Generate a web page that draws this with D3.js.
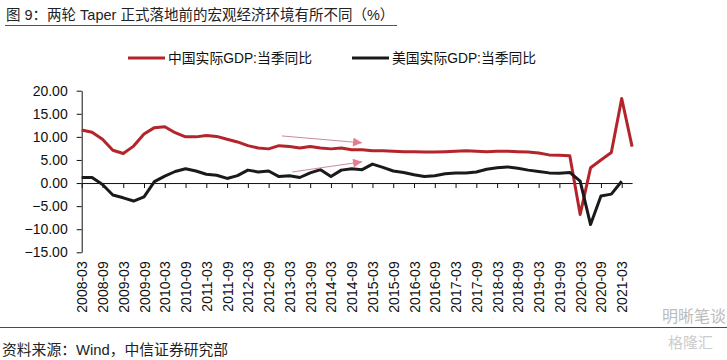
<!DOCTYPE html>
<html>
<head>
<meta charset="utf-8">
<script src="https://cdn.jsdelivr.net/npm/d3@7"></script>
<style>
  body { margin: 0; background: #fff; }
  svg { display: block; font-family: "Liberation Sans", Arial, "Noto Sans CJK SC", sans-serif; }
  .axis text { font-size: 14px; fill: #111; }
  .axis path, .axis line { stroke: #111; stroke-width: 1; }
</style>
</head>
<body>
<svg id="chart" width="727" height="360"></svg>
<script>
const quarters = [
  "2008-03","2008-06","2008-09","2008-12","2009-03","2009-06","2009-09","2009-12",
  "2010-03","2010-06","2010-09","2010-12","2011-03","2011-06","2011-09","2011-12",
  "2012-03","2012-06","2012-09","2012-12","2013-03","2013-06","2013-09","2013-12",
  "2014-03","2014-06","2014-09","2014-12","2015-03","2015-06","2015-09","2015-12",
  "2016-03","2016-06","2016-09","2016-12","2017-03","2017-06","2017-09","2017-12",
  "2018-03","2018-06","2018-09","2018-12","2019-03","2019-06","2019-09","2019-12",
  "2020-03","2020-06","2020-09","2020-12","2021-03","2021-06"
];

// 中国实际GDP:当季同比
const chinaGdp = [
  11.5, 11.0, 9.5, 7.1, 6.4, 8.0, 10.6, 12.0,
  12.2, 10.9, 10.0, 10.0, 10.3, 10.1, 9.5, 8.9,
  8.1, 7.6, 7.4, 8.1, 7.9, 7.6, 7.9, 7.6,
  7.4, 7.6, 7.2, 7.2, 7.0, 7.0, 6.9, 6.8,
  6.8, 6.7, 6.7, 6.8, 6.9, 7.0, 6.9, 6.8,
  6.9, 6.9, 6.8, 6.7, 6.5, 6.1, 6.0, 5.9,
  -6.8, 3.3, 5.0, 6.6, 18.3, 7.9
];

// 美国实际GDP:当季同比
const usGdp = [
  1.2, 1.2, -0.3, -2.6, -3.2, -3.9, -3.0, 0.3,
  1.5, 2.5, 3.1, 2.6, 1.9, 1.7, 1.0, 1.6,
  2.8, 2.4, 2.6, 1.4, 1.6, 1.2, 2.2, 2.9,
  1.4, 2.8, 3.1, 2.9, 4.1, 3.4, 2.6, 2.3,
  1.8, 1.4, 1.6, 2.0, 2.2, 2.2, 2.4, 3.0,
  3.3, 3.5, 3.2, 2.8, 2.5, 2.2, 2.1, 2.3,
  0.4, -9.0, -2.8, -2.4, 0.4, null
];

const yTicks = [-15, -10, -5, 0, 5, 10, 15, 20];

// annotation arrows: [from quarter, from value, to quarter, to value]
const arrows = [
  ["2012-12", 10.2, "2014-12", 8.7],
  ["2013-03", 2.4, "2014-12", 4.6]
];

const series = [
  { name: "中国实际GDP:当季同比", values: chinaGdp, color: "#b3242b" },
  { name: "美国实际GDP:当季同比", values: usGdp, color: "#1a1a1a" }
];

const svg = d3.select("#chart");

const x = d3.scalePoint().domain(quarters).range([81.7, 632.1]);
const y = d3.scaleLinear().domain([-15, 20]).range([252.3, 90.7]);

// title
svg.append("text")
  .attr("x", 6).attr("y", 20)
  .attr("font-size", 14.5).attr("fill", "#222")
  .text("图 9：两轮 Taper 正式落地前的宏观经济环境有所不同（%）");
svg.append("line")
  .attr("x1", 5).attr("x2", 397).attr("y1", 25.5).attr("y2", 25.5)
  .attr("stroke", "#8e3a3a").attr("stroke-width", 1);

// legend
const legend = svg.append("g").attr("transform", "translate(128,58)");
series.forEach((s, i) => {
  const g = legend.append("g").attr("transform", `translate(${i * 224},0)`);
  g.append("line").attr("x1", 0).attr("x2", 37).attr("stroke", s.color).attr("stroke-width", 3);
  g.append("text").attr("x", 40).attr("dy", "0.35em")
    .attr("font-size", 13.8).attr("fill", "#111").text(s.name);
});

// y axis
svg.append("g").attr("class", "axis")
  .attr("transform", `translate(${x.range()[0]},0)`)
  .call(d3.axisLeft(y).tickValues(yTicks).tickFormat(d3.format(".2f")).tickSize(5).tickPadding(9).tickSizeOuter(0));

// x axis line with ticks at zero
const labelled = quarters.filter((q, i) => i % 2 === 0);
svg.append("g").attr("class", "axis")
  .attr("transform", `translate(0,${y(0)})`)
  .call(d3.axisBottom(x).tickValues(labelled).tickFormat("").tickSize(5).tickSizeOuter(0));

// x labels at bottom
const xl = svg.append("g").attr("class", "axis")
  .attr("transform", `translate(0,${y(-15)})`)
  .call(d3.axisBottom(x).tickValues(labelled).tickSize(0));
xl.select(".domain").remove();
xl.selectAll("text")
  .attr("transform", "rotate(-90)")
  .attr("text-anchor", "end")
  .attr("x", -9).attr("y", 0).attr("dy", "0.36em");

// lines
const line = d3.line()
  .defined(d => d.v !== null)
  .x(d => x(d.q))
  .y(d => y(d.v));

series.forEach(s => {
  svg.append("path")
    .datum(quarters.map((q, i) => ({ q, v: s.values[i] })))
    .attr("fill", "none")
    .attr("stroke", s.color)
    .attr("stroke-width", 3)
    .attr("stroke-linejoin", "round")
    .attr("d", line);
});

// arrows
svg.append("defs").append("marker")
  .attr("id", "arrow")
  .attr("viewBox", "0 0 10 10")
  .attr("refX", 10).attr("refY", 5)
  .attr("markerWidth", 10).attr("markerHeight", 9)
  .attr("markerUnits", "userSpaceOnUse")
  .attr("orient", "auto")
  .append("path")
  .attr("d", "M 0 0 L 10 5 L 0 10 z")
  .attr("fill", "#e47d90");

arrows.forEach(a => {
  svg.append("line")
    .attr("x1", x(a[0]) + 3).attr("y1", y(a[1]))
    .attr("x2", x(a[2])).attr("y2", y(a[3]))
    .attr("stroke", "#c98c98").attr("stroke-width", 1)
    .attr("marker-end", "url(#arrow)");
});

// footer
svg.append("line")
  .attr("x1", 0).attr("x2", 727).attr("y1", 327.5).attr("y2", 327.5)
  .attr("stroke", "#8b2e2e").attr("stroke-width", 1);
svg.append("text")
  .attr("x", 2).attr("y", 355)
  .attr("font-size", 14.8).attr("fill", "#222")
  .text("资料来源：Wind，中信证券研究部");

// watermark
svg.append("text")
  .attr("x", 662).attr("y", 322)
  .attr("font-size", 16).attr("fill", "#bbb")
  .text("明晰笔谈");
svg.append("text")
  .attr("x", 668).attr("y", 348)
  .attr("font-size", 15).attr("fill", "#ccc")
  .text("格隆汇");
</script>
</body>
</html>
